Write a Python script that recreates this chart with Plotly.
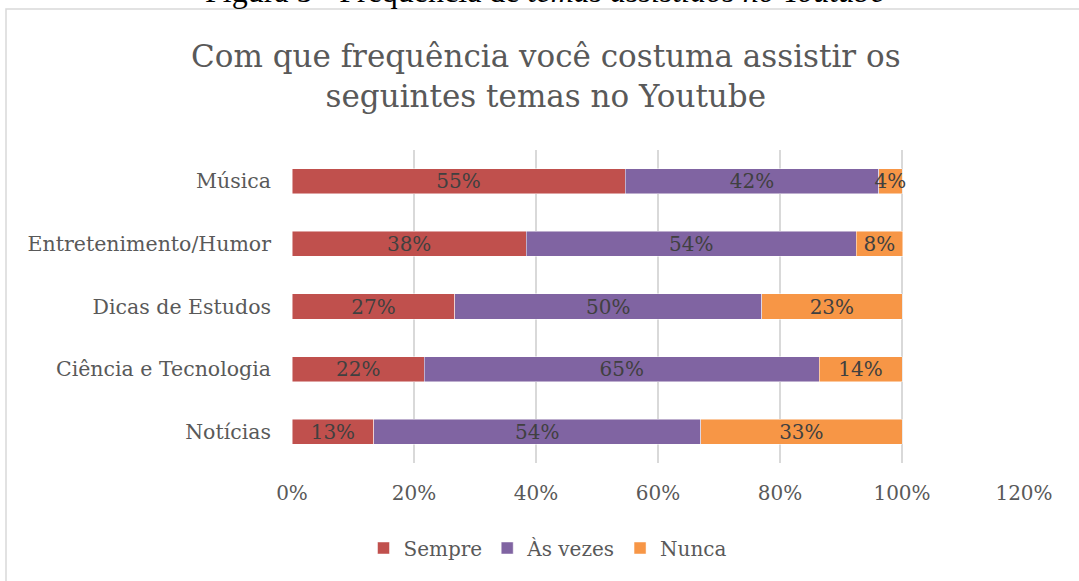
import plotly.graph_objects as go

categories = ["Notícias", "Ciência e Tecnologia", "Dicas de Estudos", "Entretenimento/Humor", "Música"]
sempre = [0.134, 0.217, 0.267, 0.384, 0.546]
as_vezes = [0.536, 0.647, 0.503, 0.541, 0.416]
nunca = [0.330, 0.136, 0.230, 0.076, 0.038]
series_names = ["Sempre", "Às vezes", "Nunca"]
colors = ["#C0504D", "#8064A2", "#F79646"]
x_ticks = [0, 0.2, 0.4, 0.6, 0.8, 1.0, 1.2]
x_tick_labels = ["0%", "20%", "40%", "60%", "80%", "100%", "120%"]

FONT = "DejaVu Serif"
GRAY = "#595959"

fig = go.Figure()
for name, vals, col in zip(series_names, [sempre, as_vezes, nunca], colors):
    fig.add_trace(go.Bar(
        y=categories, x=vals, name=name, orientation="h",
        marker=dict(color=col, line=dict(color="rgba(255,255,255,0.6)", width=0.8)),
        texttemplate="%{x:.0%}", textposition="inside", insidetextanchor="middle",
        textangle=0,
        textfont=dict(family=FONT, size=20, color="#404040"),
        constraintext="none", cliponaxis=False,
    ))

W, H = 1079, 581
L, R, T, B = 292, 1079 - 1024, 150, 581 - 463
pw, ph = W - L - R, H - T - B


def px_x(x):
    return (x - L) / pw


def px_y(y):
    return 1 - (y - T) / ph


fig.update_layout(
    barmode="stack", bargap=0.6,
    width=W, height=H,
    margin=dict(l=L, r=R, t=T, b=B, pad=0),
    paper_bgcolor="white", plot_bgcolor="white",
    font=dict(family=FONT, color=GRAY),
    uniformtext=dict(minsize=20, mode="show"),
    xaxis=dict(range=[0, 1.2], tickvals=x_ticks, ticktext=x_tick_labels,
               showgrid=True, gridcolor="#D9D9D9", gridwidth=1.5, zeroline=False,
               showline=False, ticks="", tickfont=dict(family=FONT, size=20, color=GRAY),
               ticklabelstandoff=16, fixedrange=True),
    yaxis=dict(showgrid=False, showline=False, ticks="", ticklabelstandoff=20,
               tickfont=dict(family=FONT, size=20.5, color=GRAY), fixedrange=True),
    legend=dict(orientation="h", x=px_x(548), xanchor="center", y=px_y(548), yanchor="middle",
                font=dict(family=FONT, size=20, color=GRAY), traceorder="normal",
                itemwidth=30, tracegroupgap=0),
    showlegend=True,
)

# title (two centred lines)
fig.add_annotation(text="Com que frequência você costuma assistir os<br>seguintes temas no Youtube",
                   xref="paper", yref="paper", x=px_x(546), y=px_y(76), xanchor="center", yanchor="middle",
                   showarrow=False, align="center",
                   font=dict(family=FONT, size=31, color=GRAY))

# chart-area border and figure caption (caption partly above the visible page, as in the reference)
fig.add_shape(type="rect", xref="paper", yref="paper",
              x0=px_x(6), x1=px_x(1095), y0=px_y(600), y1=px_y(9),
              line=dict(color="#D9D9D9", width=1.5), fillcolor="rgba(0,0,0,0)", layer="below")
fig.add_annotation(text="Figura 5 - Frequência de <i>temas assistidos no Youtube</i>",
                   xref="paper", yref="paper", x=px_x(545), y=px_y(11), xanchor="center", yanchor="bottom",
                   showarrow=False, font=dict(family="Liberation Serif", size=32, color="black"))

fig.write_html("out.html", config={"displayModeBar": False},
               post_script="document.body.style.margin='0';document.body.style.overflow='hidden';")
